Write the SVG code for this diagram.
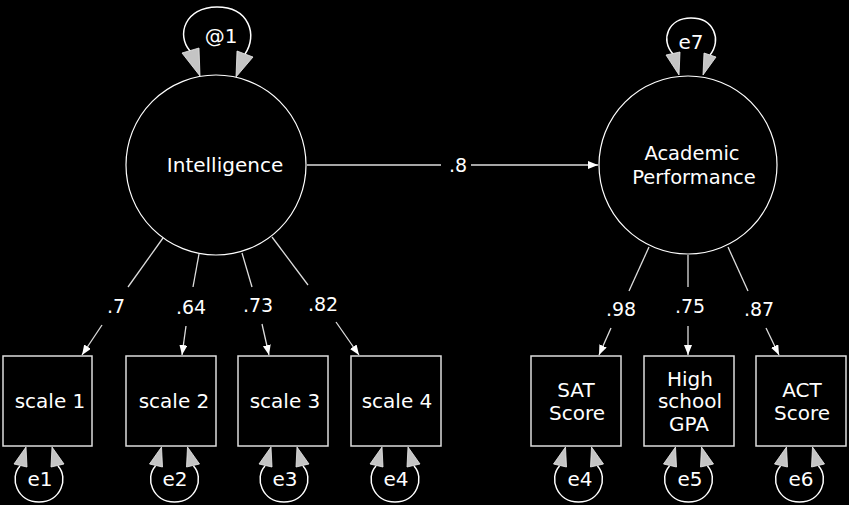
<svg xmlns="http://www.w3.org/2000/svg" width="849" height="505" viewBox="0 0 849 505">
<defs>
<marker id="arr" markerUnits="userSpaceOnUse" markerWidth="11" markerHeight="9" refX="10" refY="4" orient="auto">
<path d="M0,0 L10,4 L0,8 z" fill="#ffffff"/>
</marker>
<g id="botloop">
<path class="loop" d="M-19,466 C-30,478 -22,502 0,502 C22,502 30,478 19,466"/>
<polygon class="lh" points="-13,447 -25,464 -12,467"/>
<polygon class="lh" points="13,447 12,467 25,464"/>
</g>
</defs>
<style>
text{font-family:"DejaVu Sans","Liberation Sans",sans-serif;font-size:20px;fill:#ffffff;text-anchor:middle}
.lbl{font-size:19px}
.two{font-size:19.5px}
.node{fill:#000000;stroke:#ffffff;stroke-width:1.2}
.box{fill:#000000;stroke:#dddddd;stroke-width:1.5}
.edge{stroke:#dddddd;stroke-width:1.3;fill:none}
.loop{stroke:#ffffff;stroke-width:1.5;fill:none}
.lh{fill:#c4c4c4;stroke:#eeeeee;stroke-width:0.8}
</style>
<rect width="849" height="505" fill="#000000"/>

<g id="connectors">
<line class="edge" x1="163" y1="238" x2="128" y2="287"/>
<line class="edge" x1="102" y1="325" x2="82" y2="355" marker-end="url(#arr)"/>
<line class="edge" x1="199" y1="254" x2="193" y2="287"/>
<line class="edge" x1="186" y1="326" x2="182" y2="355" marker-end="url(#arr)"/>
<line class="edge" x1="242" y1="253" x2="252" y2="287"/>
<line class="edge" x1="262" y1="324" x2="269" y2="355" marker-end="url(#arr)"/>
<line class="edge" x1="272" y1="237" x2="308" y2="285"/>
<line class="edge" x1="336" y1="322" x2="359" y2="355" marker-end="url(#arr)"/>
<line class="edge" x1="307" y1="165" x2="441" y2="165"/>
<line class="edge" x1="471" y1="165" x2="598" y2="165" marker-end="url(#arr)"/>
<line class="edge" x1="649" y1="247" x2="629" y2="291"/>
<line class="edge" x1="611" y1="328" x2="599" y2="355" marker-end="url(#arr)"/>
<line class="edge" x1="688" y1="255" x2="688" y2="287"/>
<line class="edge" x1="688" y1="326" x2="688" y2="355" marker-end="url(#arr)"/>
<line class="edge" x1="728" y1="247" x2="748" y2="291"/>
<line class="edge" x1="766" y1="328" x2="779" y2="355" marker-end="url(#arr)"/>
<text class="lbl" x="116" y="313">.7</text>
<text class="lbl" x="191" y="314">.64</text>
<text class="lbl" x="258" y="312">.73</text>
<text class="lbl" x="323" y="311">.82</text>
<text class="lbl" x="458" y="172">.8</text>
<text class="lbl" x="621" y="316">.98</text>
<text class="lbl" x="690" y="313">.75</text>
<text class="lbl" x="759" y="316">.87</text>
</g>

<g id="intelligence">
<circle class="node" cx="216" cy="165" r="90"/>
<path class="loop" d="M190,51 C176,35 185,7 217,7 C249,7 258,35 245,54"/>
<polygon class="lh" points="182,53 199,48 200,76"/>
<polygon class="lh" points="237,51 253,57 236,77"/>
<text x="221" y="43">@1</text>
<text x="225" y="172">Intelligence</text>
</g>

<g id="academic">
<circle class="node" cx="688" cy="165" r="89"/>
<path class="loop" d="M673,54 C660,40 668,18 691,18 C714,18 722,40 710,55"/>
<polygon class="lh" points="666,55 680,52 679,75"/>
<polygon class="lh" points="704,53 716,57 703,75"/>
<text x="691" y="49">e7</text>
<text class="two" x="692" y="160">Academic</text>
<text class="two" x="694" y="184">Performance</text>
</g>

<g id="scale1">
<rect class="box" x="3" y="356" width="89" height="90"/>
<text x="50" y="408">scale 1</text>
</g>
<g id="scale2">
<rect class="box" x="126" y="356" width="90" height="90"/>
<text x="174" y="408">scale 2</text>
</g>
<g id="scale3">
<rect class="box" x="238" y="356" width="90" height="90"/>
<text x="285" y="408">scale 3</text>
</g>
<g id="scale4">
<rect class="box" x="351" y="356" width="90" height="90"/>
<text x="397" y="408">scale 4</text>
</g>
<g id="sat">
<rect class="box" x="531" y="356" width="90" height="90"/>
<text x="576" y="397">SAT</text>
<text x="577" y="420">Score</text>
</g>
<g id="gpa">
<rect class="box" x="644" y="356" width="90" height="90"/>
<text x="690" y="386">High</text>
<text x="690" y="408">school</text>
<text x="689" y="431">GPA</text>
</g>
<g id="act">
<rect class="box" x="756" y="356" width="90" height="90"/>
<text x="802" y="397">ACT</text>
<text x="802" y="420">Score</text>
</g>

<g id="e1"><use href="#botloop" transform="translate(39,0)"/><text x="40" y="486">e1</text></g>
<g id="e2"><use href="#botloop" transform="translate(174.5,0)"/><text x="175" y="486">e2</text></g>
<g id="e3"><use href="#botloop" transform="translate(284,0)"/><text x="285" y="486">e3</text></g>
<g id="e4a"><use href="#botloop" transform="translate(395,0)"/><text x="396" y="486">e4</text></g>
<g id="e4b"><use href="#botloop" transform="translate(578.5,0)"/><text x="580" y="486">e4</text></g>
<g id="e5"><use href="#botloop" transform="translate(688.5,0)"/><text x="690" y="486">e5</text></g>
<g id="e6"><use href="#botloop" transform="translate(799.5,0)"/><text x="801" y="486">e6</text></g>
</svg>
